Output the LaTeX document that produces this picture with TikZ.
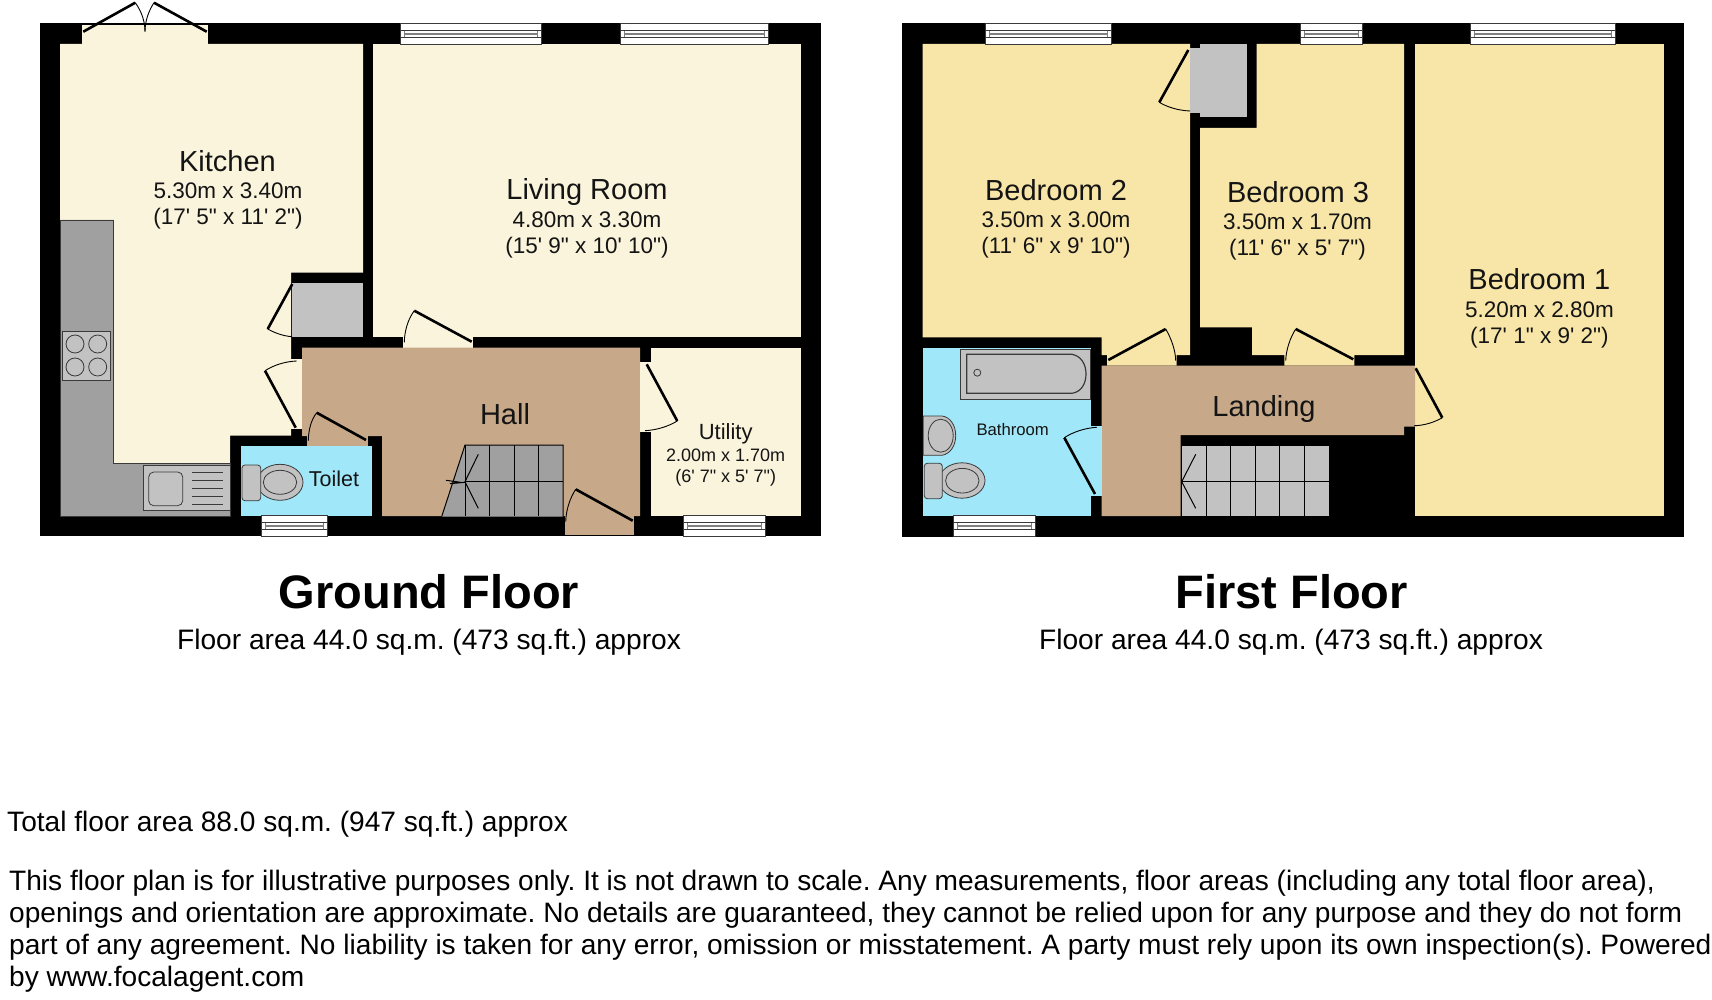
\documentclass[tikz,border=0pt]{standalone}
\usepackage{fontspec}
\newfontfamily\planfont{Liberation Sans}
\usepackage{tikz}
\usetikzlibrary{positioning,calc}
\definecolor{creamfloor}{HTML}{FAF4DC}
\definecolor{yellowfloor}{HTML}{F8E6A9}
\definecolor{hallfloor}{HTML}{C7A98A}
\definecolor{wetfloor}{HTML}{A0E8F9}
\definecolor{worktop}{HTML}{A0A0A0}
\definecolor{cupboard}{HTML}{C2C2C2}
\definecolor{fitting}{HTML}{3A3A3A}
\frenchspacing
\begin{document}
\begin{tikzpicture}[x=1pt,y=-1pt,
      wall/.style={fill=black},
      cream/.style={fill=creamfloor},
      yellow/.style={fill=yellowfloor},
      hall/.style={fill=hallfloor},
      wet/.style={fill=wetfloor},
      store/.style={fill=cupboard},
      leaf/.style={draw=black,line width=2.6pt},
      swing/.style={draw=black,line width=.9pt},
      unit/.style={draw=fitting,line width=.8pt,fill=cupboard},
      stairline/.style={draw=black,line width=1pt},
      winbox/.style={draw=fitting,line width=.7pt,fill=white,inner sep=0pt,outer sep=0pt,minimum height=20.5pt,
        path picture={
          \draw[fitting,line width=.7pt] ([yshift=3.4pt]path picture bounding box.west) -- ([yshift=3.4pt]path picture bounding box.east);
          \draw[fitting,line width=.7pt] ([yshift=-3.4pt]path picture bounding box.west) -- ([yshift=-3.4pt]path picture bounding box.east);
          \draw[gray,line width=1.2pt] ([xshift=4pt]path picture bounding box.west) -- ([xshift=-4pt]path picture bounding box.east);
          \draw[gray,line width=.8pt] ([xshift=4pt,yshift=-3.4pt]path picture bounding box.west) -- ([xshift=4pt,yshift=3.4pt]path picture bounding box.west);
          \draw[gray,line width=.8pt] ([xshift=-4pt,yshift=-3.4pt]path picture bounding box.east) -- ([xshift=-4pt,yshift=3.4pt]path picture bounding box.east);
        }},
      roomname/.style={text=black!92,inner sep=0pt,font=\planfont\fontsize{29}{32}\selectfont},
      roomsize/.style={text=black!92,inner sep=0pt,align=center,font=\planfont\fontsize{22.5}{26}\selectfont},
      areatext/.style={text=black,inner sep=0pt,font=\planfont\fontsize{28.15}{32}\selectfont},
      smallname/.style={text=black!92,inner sep=0pt,font=\planfont\fontsize{22}{25}\selectfont},
      smallsize/.style={text=black!92,inner sep=0pt,align=center,font=\planfont\fontsize{18}{21.7}\selectfont},
      title/.style={text=black,inner sep=0pt,font=\planfont\bfseries\fontsize{47}{54}\selectfont},
      note/.style={text=black,inner sep=0pt,align=left,font=\planfont\fontsize{28.1}{32.1}\selectfont}]
      \useasboundingbox (0,0) rectangle (1712,1000);

      \fill[white] (0,0) rectangle (1712,1000);
      \fill[wall] (40,23.5) rectangle (821,536);
      \fill[cream] (60,44) -- (363,44) -- (363,272.7) -- (291,272.7) -- (291,435.7) -- (230,435.7) -- (230,516) -- (60,516) -- cycle;
      \fill[cream] (82,25) rectangle (208,44);
      \fill[cream] (291,359) rectangle (302,429);
      \fill[store] (291.5,283) rectangle (363,337);
      \fill[cream] (373,44) rectangle (801,337.3);
      \fill[cream] (403,337) rectangle (473,348);
      \fill[hall] (302,347.7) -- (640,347.7) -- (640,516) -- (382,516) -- (382,436) -- (302,436) -- cycle;
      \fill[hall] (307,436) rectangle (368,446.5);
      \fill[hall] (565,516) rectangle (634.3,535);
      \fill[wet] (241,446) rectangle (372,516);
      \fill[cream] (650.7,347.7) rectangle (801,516);
      \fill[cream] (640,362.3) rectangle (651,432.3);

      \draw[draw=fitting,line width=.7pt,fill=worktop] (60,220) -- (113,220) -- (113,463) -- (230,463) -- (230,516) -- (60,516) -- cycle;
      \draw[unit] (62,331) rectangle (110.7,380);
      \draw[unit] (75,344) circle (9);
      \draw[unit] (97.7,344) circle (9);
      \draw[unit] (75,367) circle (9);
      \draw[unit] (97.7,367) circle (9);
      \draw[unit] (143,465) rectangle (230,510.7);
      \draw[unit,rounded corners=5pt] (148.7,472) rectangle (182.7,505.7);
      \draw[fitting,line width=.9pt] (192,472) -- (223,472) (192,480) -- (223,480) (192,488.3) -- (223,488.3) (192,496.7) -- (223,496.7) (192,504) -- (223,504);

      \draw[unit] (280,482.3) ellipse (23 and 18);
      \draw[unit] (280,482.3) ellipse (16.7 and 12);
      \draw[unit,rounded corners=3pt] (242,465) rectangle (260.7,500.7);

      \fill[worktop] (441.7,516.5) -- (465,445) -- (562.7,445) -- (562.7,516.5) -- cycle;
      \draw[stairline] (441.7,516.5) -- (465,445) -- (563,445) -- (563,516);
      \draw[stairline] (465,445) -- (465,516) (489.7,445) -- (489.7,516) (514.3,445) -- (514.3,516) (538.7,445) -- (538.7,516);
      \draw[stairline] (465,481) -- (563,481);
      \draw[stairline] (478.3,454.3) -- (465,481.7) -- (478.3,508.3);
      \draw[stairline] (446,480.3) -- (458.3,482) -- (450,483.7) -- (465,482.3);

      \draw[leaf] (83.3,31.7) -- (135.3,2.7);
      \draw[leaf] (206.7,31.7) -- (154,2.7);
      \draw[swing] (135.3,2.7) .. controls (142,12) and (145,22) .. (145,31.7);
      \draw[swing] (154,2.7) .. controls (148,12) and (145,22) .. (145,31.7);
      \draw[leaf] (292.3,284) -- (267.7,329);
      \draw[swing] (267.7,329) .. controls (275,333) and (283,336) .. (292,336.7);
      \draw[leaf] (295.7,427.7) -- (265,370.7);
      \draw[swing] (265,370.7) .. controls (274,365) and (285,361.5) .. (296.7,361);
      \draw[leaf] (366,440) -- (316.7,412.7);
      \draw[swing] (316.7,412.7) .. controls (311,420) and (308.5,430) .. (308.3,440.7);
      \draw[leaf] (471.7,341.7) -- (414.3,310.7);
      \draw[swing] (414.3,310.7) .. controls (408,319) and (404.5,331) .. (404.3,342.3);
      \draw[leaf] (646.7,364.3) -- (677.3,421);
      \draw[swing] (677.3,421) .. controls (668,426.5) and (657,430) .. (645,430.7);
      \draw[leaf] (632.7,520.7) -- (575.7,489.3);
      \draw[swing] (575.7,489.3) .. controls (570,498) and (566,510) .. (565.7,521.7);

      \node[winbox,minimum width=141pt] at (471,34) (livingwina) {};
      \node[winbox,minimum width=148pt] at (694,34) (livingwinb) {};
      \node[winbox,minimum width=66pt] at (294.7,526) (toiletwin) {};
      \node[winbox,minimum width=82.4pt] at (724.5,526) (utilitywin) {};

      \node[roomname] at (227.5,161) (kitchen) {Kitchen};
      \node[roomsize] at (228,206) (kitchensize) {5.30m x 3.40m\\(17' 5" x 11' 2")};
      \node[roomname] at (587,192.5) (living) {Living Room};
      \node[roomsize] at (587,235) (livingsize) {4.80m x 3.30m\\(15' 9" x 10' 10")};
      \node[roomname] at (505,414) (hallname) {Hall};
      \node[smallname,font=\planfont\fontsize{21.5}{24}\selectfont] at (334,479) (toilet) {Toilet};
      \node[smallname] at (725.7,434) (utility) {Utility};
      \node[smallsize] at (725.7,467.5) (utilitysize) {2.00m x 1.70m\\(6' 7" x 5' 7")};
      \node[title] at (429,592) (groundtitle) {Ground Floor};
      \node[areatext] at (429,642.5) (groundarea) {Floor area 44.0 sq.m. (473 sq.ft.) approx};

      \fill[wall] (902.3,23.5) rectangle (1684,536.7);
      \fill[yellow] (922.7,44) -- (1190,44) -- (1190,355) -- (1176.7,355) -- (1176.7,365.5) -- (1107,365.5) -- (1107,355) -- (1101.7,355) -- (1101.7,337.3) -- (922.7,337.3) -- cycle;
      \fill[store] (1190,48) rectangle (1201,112.7);
      \fill[store] (1200,44) rectangle (1246.7,117.3);
      \fill[yellow] (1256.7,44) -- (1404,44) -- (1404,355) -- (1354.3,355) -- (1354.3,365.5) -- (1284.3,365.5) -- (1284.3,355) -- (1252,355) -- (1252,327.3) -- (1200,327.3) -- (1200,128) -- (1256.7,128) -- cycle;
      \fill[yellow] (1414.7,44) rectangle (1663.7,516);
      \fill[hall] (1101.7,365.5) -- (1415,365.5) -- (1415,426.7) -- (1404,426.7) -- (1404,435) -- (1180.7,435) -- (1180.7,516) -- (1101.7,516) -- cycle;
      \fill[wet] (922.7,347.7) rectangle (1091,516);
      \fill[wet] (1091,426) rectangle (1101.7,496);

      \draw[unit] (960,349) rectangle (1090,399);
      \draw[unit,line width=1.2pt] (966.7,354.3) -- (1072,354.3) .. controls (1081,356) and (1086,364) .. (1086,374) .. controls (1086,384) and (1081,392) .. (1072,393.3) -- (966.7,393.3) -- cycle;
      \draw[unit] (977.3,372.7) circle (3.5);
      \draw[unit] (923.3,416) -- (942,416) .. controls (950,417) and (955.7,425) .. (955.7,435.7) .. controls (955.7,446) and (950,454) .. (942,455.3) -- (923.3,455.3) -- cycle;
      \draw[unit] (940.7,435.7) ellipse (12.5 and 16.5);
      \draw[unit] (962,480.5) ellipse (23 and 17.7);
      \draw[unit] (962.3,480.7) ellipse (16.7 and 12.3);
      \draw[unit,rounded corners=3pt] (924.3,463.3) rectangle (942.3,498.7);

      \fill[cupboard] (1181.7,446) rectangle (1329.5,516);
      \draw[stairline] (1181.7,446) -- (1181.7,516) (1206,446) -- (1206,516) (1230.7,446) -- (1230.7,516) (1255,446) -- (1255,516) (1279.3,446) -- (1279.3,516) (1304,446) -- (1304,516) (1329.5,446) -- (1329.5,516);
      \draw[stairline] (1181.7,481) -- (1329.5,481);
      \draw[stairline] (1195.7,454.3) -- (1181.7,481.7) -- (1195.7,508.3);

      \draw[leaf] (1188.3,50) -- (1159.3,102.3);
      \draw[swing] (1159.3,102.3) .. controls (1167,107) and (1178,110.5) .. (1190,111);
      \draw[leaf] (1108.3,360) -- (1165.7,329);
      \draw[swing] (1165.7,329) .. controls (1171,338) and (1175.5,350) .. (1175.7,360.7);
      \draw[leaf] (1353.3,359.3) -- (1295.7,329);
      \draw[swing] (1295.7,329) .. controls (1290,338) and (1286,350) .. (1285.7,360.7);
      \draw[leaf] (1415.7,368.3) -- (1442.3,417.7);
      \draw[swing] (1442.3,417.7) .. controls (1434,422.5) and (1424,425.5) .. (1414.3,425.7);
      \draw[leaf] (1095,494) -- (1064.3,437.7);
      \draw[swing] (1064.3,437.7) .. controls (1073,432) and (1085,428) .. (1096.7,427.3);

      \node[winbox,minimum width=126.5pt] at (1048.3,34) (bedtwowin) {};
      \node[winbox,minimum width=62.4pt] at (1331.5,34) (bedthreewin) {};
      \node[winbox,minimum width=144.3pt] at (1542.8,34) (bedonewin) {};
      \node[winbox,minimum width=81.7pt] at (994.2,526) (bathwin) {};

      \node[roomname] at (1056,190) (bedtwo) {Bedroom 2};
      \node[roomsize] at (1056,235) (bedtwosize) {3.50m x 3.00m\\(11' 6" x 9' 10")};
      \node[roomname] at (1298,192) (bedthree) {Bedroom 3};
      \node[roomsize] at (1297.5,237) (bedthreesize) {3.50m x 1.70m\\(11' 6" x 5' 7")};
      \node[roomname] at (1539.4,279.5) (bedone) {Bedroom 1};
      \node[roomsize] at (1539.4,324.5) (bedonesize) {5.20m x 2.80m\\(17' 1" x 9' 2")};
      \node[roomname] at (1264,408.5) (landing) {Landing};
      \node[smallname,font=\planfont\fontsize{16.7}{20}\selectfont] at (1012.7,429.3) (bathroom) {Bathroom};
      \node[title] at (1291.6,592) (firsttitle) {First Floor};
      \node[areatext] at (1291,642.5) (firstarea) {Floor area 44.0 sq.m. (473 sq.ft.) approx};

      \node[note,anchor=west] at (7,824) (total) {Total floor area 88.0 sq.m. (947 sq.ft.) approx};
      \node[note,anchor=west] at (9,931) (disclaimer) {This floor plan is for illustrative purposes only. It is not drawn to scale. Any measurements, floor areas (including any total floor area),\\
      openings and orientation are approximate. No details are guaranteed, they cannot be relied upon for any purpose and they do not form\\
      part of any agreement. No liability is taken for any error, omission or misstatement. A party must rely upon its own inspection(s). Powered\\
      by www.focalagent.com};
    \end{tikzpicture}
\end{document}
